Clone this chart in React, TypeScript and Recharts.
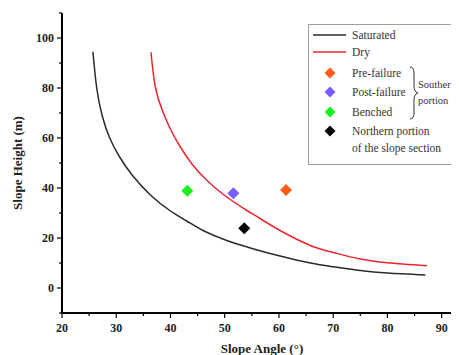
import React from 'react';
import {
  ComposedChart,
  Line,
  Scatter,
  XAxis,
  YAxis,
  Label,
} from 'recharts';

// curves
const saturated = [
  { x: 25.7, y: 94.5 },
  { x: 26.4, y: 80.0 },
  { x: 27.4, y: 69.0 },
  { x: 28.8, y: 60.0 },
  { x: 30.6, y: 52.5 },
  { x: 33.0, y: 45.0 },
  { x: 36.4, y: 37.0 },
  { x: 40.0, y: 30.8 },
  { x: 43.0, y: 26.8 },
  { x: 46.0, y: 23.0 },
  { x: 49.2, y: 20.0 },
  { x: 52.0, y: 17.8 },
  { x: 56.5, y: 14.9 },
  { x: 60.2, y: 12.8 },
  { x: 65.8, y: 10.0 },
  { x: 70.0, y: 8.5 },
  { x: 75.0, y: 7.0 },
  { x: 80.0, y: 6.0 },
  { x: 87.0, y: 5.2 },
];

const dry = [
  { x: 36.4, y: 94.3 },
  { x: 37.2, y: 80.5 },
  { x: 38.5, y: 71.0 },
  { x: 40.0, y: 63.5 },
  { x: 41.8, y: 56.5 },
  { x: 44.0, y: 49.5 },
  { x: 46.5, y: 43.5 },
  { x: 50.0, y: 37.0 },
  { x: 54.1, y: 31.0 },
  { x: 56.5, y: 27.8 },
  { x: 60.2, y: 23.0 },
  { x: 65.8, y: 17.0 },
  { x: 70.0, y: 14.2 },
  { x: 75.0, y: 11.6 },
  { x: 80.0, y: 10.1 },
  { x: 87.3, y: 8.9 },
];

const preFailure = [{ x: 61.3, y: 39.2 }];
const postFailure = [{ x: 51.6, y: 37.9 }];
const benched = [{ x: 43.1, y: 38.9 }];
const northern = [{ x: 53.6, y: 23.9 }];

const xTicks = [20, 25, 30, 35, 40, 45, 50, 55, 60, 65, 70, 75, 80, 85, 90];
const yTicks = [-10, 0, 10, 20, 30, 40, 50, 60, 70, 80, 90, 100, 110];

const COLORS = {
  saturated: '#2a2a2a',
  dry: '#e8262e',
  pre: '#ff5a1a',
  post: '#7a5cff',
  benched: '#1ef01e',
  northern: '#000000',
};

const FONT = 'Liberation Serif';
const PLOT_LEFT = 62;
const PLOT_BOTTOM = 313;

const diamondPath = (cx: number, cy: number, r: number) =>
  `M${cx},${cy - r} L${cx + r},${cy} L${cx},${cy + r} L${cx - r},${cy} Z`;

const Diamond = (props: any) => {
  const { cx, cy, fill } = props;
  if (cx == null || cy == null) return null;
  return <path d={diamondPath(cx, cy, 6)} fill={fill} />;
};

const YTick = (props: any) => {
  const { y, payload } = props;
  const v = payload.value;
  const major = v % 20 === 0 && v >= 0 && v <= 100;
  const len = major ? 5 : 3;
  return (
    <g>
      <line x1={PLOT_LEFT - len} x2={PLOT_LEFT} y1={y} y2={y} stroke="#000" strokeWidth={1.2} />
      {major && (
        <text
          x={PLOT_LEFT - 8}
          y={y + 4}
          textAnchor="end"
          fontFamily={FONT}
          fontWeight="bold"
          fontSize={12}
          fill="#222"
        >
          {v}
        </text>
      )}
    </g>
  );
};

const XTick = (props: any) => {
  const { x, payload } = props;
  const v = payload.value;
  const major = v % 10 === 0;
  const len = major ? 5 : 3;
  return (
    <g>
      <line x1={x} x2={x} y1={PLOT_BOTTOM} y2={PLOT_BOTTOM + len} stroke="#000" strokeWidth={1.2} />
      {major && (
        <text
          x={x}
          y={PLOT_BOTTOM + 19}
          textAnchor="middle"
          fontFamily={FONT}
          fontWeight="bold"
          fontSize={12}
          fill="#222"
        >
          {v}
        </text>
      )}
    </g>
  );
};

const LegendBox = () => {
  const t = { fontFamily: FONT, fontSize: 11.5, fill: '#333' };
  const s = { fontFamily: FONT, fontSize: 10.5, fill: '#333' };
  return (
    <svg width={151} height={142} style={{ display: 'block' }}>
      <rect x={0.5} y={0.5} width={170} height={140} fill="#fff" stroke="#a0a0a0" strokeWidth={1} />
      <line x1={5} x2={38} y1={11} y2={11} stroke={COLORS.saturated} strokeWidth={1.5} />
      <text x={44} y={15} {...t}>Saturated</text>
      <line x1={5} x2={38} y1={28} y2={28} stroke={COLORS.dry} strokeWidth={1.5} />
      <text x={44} y={32} {...t}>Dry</text>
      <path d={diamondPath(22, 49, 5.5)} fill={COLORS.pre} />
      <text x={44} y={53} {...t}>Pre-failure</text>
      <path d={diamondPath(22, 68, 5.5)} fill={COLORS.post} />
      <text x={44} y={72} {...t}>Post-failure</text>
      <path d={diamondPath(22, 88, 5.5)} fill={COLORS.benched} />
      <text x={44} y={92} {...t}>Benched</text>
      <path d={diamondPath(22, 107, 5.5)} fill={COLORS.northern} />
      <text x={44} y={111} {...t}>Northern portion</text>
      <text x={44} y={128} {...t}>of the slope section</text>
      {/* curly brace grouping the southern markers */}
      <path
        d="M102,43 Q106,43 106,49 L106,62 Q106,68 110,69 Q106,70 106,76 L106,89 Q106,95 102,95"
        fill="none"
        stroke="#333"
        strokeWidth={1}
      />
      <text x={110} y={64} {...s}>Southern</text>
      <text x={110} y={80} {...s}>portion</text>
    </svg>
  );
};

const App: React.FC = () => {
  return (
    <div
      style={{
        margin: '-8px 0 0 -8px',
        width: 459,
        height: 355,
        overflow: 'hidden',
        background: '#fff',
        position: 'relative',
      }}
    >
      <ComposedChart
        width={459}
        height={355}
        margin={{ top: 13, right: 0, bottom: 12, left: 22 }}
      >
        <XAxis
          type="number"
          dataKey="x"
          domain={[20, 93.2]}
          ticks={xTicks}
          interval={0}
          allowDataOverflow
          height={30}
          tick={<XTick />}
          tickLine={false}
          axisLine={{ stroke: '#000', strokeWidth: 2 }}
        >
          <Label
            content={() => (
              <text
                x={262}
                y={353}
                textAnchor="middle"
                fontFamily={FONT}
                fontWeight="bold"
                fontSize={13}
                fill="#222"
              >
                Slope Angle (°)
              </text>
            )}
          />
        </XAxis>
        <YAxis
          type="number"
          dataKey="y"
          domain={[-10, 110]}
          ticks={yTicks}
          interval={0}
          allowDataOverflow
          width={40}
          tick={<YTick />}
          tickLine={false}
          axisLine={{ stroke: '#000', strokeWidth: 2 }}
        >
          <Label
            content={() => (
              <text
                x={22}
                y={163}
                transform="rotate(-90 22 163)"
                textAnchor="middle"
                fontFamily={FONT}
                fontWeight="bold"
                fontSize={13}
                fill="#222"
              >
                Slope Height (m)
              </text>
            )}
          />
        </YAxis>
        <Line
          data={saturated}
          dataKey="y"
          type="natural"
          stroke={COLORS.saturated}
          strokeWidth={1.5}
          dot={false}
          activeDot={false}
          isAnimationActive={false}
        />
        <Line
          data={dry}
          dataKey="y"
          type="natural"
          stroke={COLORS.dry}
          strokeWidth={1.5}
          dot={false}
          activeDot={false}
          isAnimationActive={false}
        />
        <Scatter data={preFailure} dataKey="y" fill={COLORS.pre} shape={<Diamond />} isAnimationActive={false} />
        <Scatter data={postFailure} dataKey="y" fill={COLORS.post} shape={<Diamond />} isAnimationActive={false} />
        <Scatter data={benched} dataKey="y" fill={COLORS.benched} shape={<Diamond />} isAnimationActive={false} />
        <Scatter data={northern} dataKey="y" fill={COLORS.northern} shape={<Diamond />} isAnimationActive={false} />
      </ComposedChart>
      <div style={{ position: 'absolute', left: 308, top: 24 }}>
        <LegendBox />
      </div>
    </div>
  );
};

export default App;
